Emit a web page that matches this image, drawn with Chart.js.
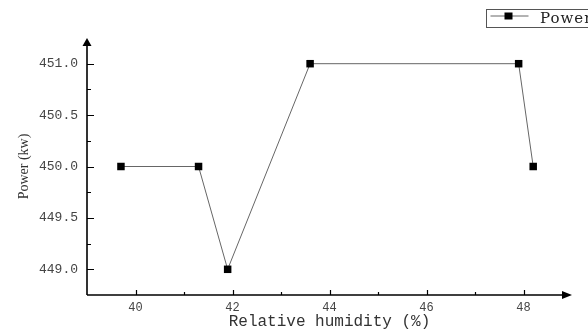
<!DOCTYPE html>
<html>
<head>
<meta charset="utf-8">
<script src="https://cdn.jsdelivr.net/npm/chart.js@4.4.1/dist/chart.umd.min.js"></script>
<style>
html, body { margin: 0; padding: 0; background: #fff; overflow: hidden; }
#wrap { width: 588px; height: 331px; }
</style>
</head>
<body>
<div id="wrap"><canvas id="lineChart" width="588" height="331"></canvas></div>
<script>
// relative humidity (%) vs power (kw)
var humidity = [39.7, 41.3, 41.9, 43.6, 47.9, 48.2];
var power = [450.0, 450.0, 449.0, 451.0, 451.0, 450.0];
var xTickLabels = [40, 42, 44, 46, 48];
var yTickLabels = [449.0, 449.5, 450.0, 450.5, 451.0];

var points = [];
for (var i = 0; i < humidity.length; i++) {
    points.push({ x: humidity[i], y: power[i] });
}

// axis lines with arrow heads and inward tick marks
var axisPlugin = {
    id: 'axisArrows',
    afterDraw: function (chart) {
        var ctx = chart.ctx;
        var area = chart.chartArea;
        var xs = chart.scales.x;
        var ys = chart.scales.y;
        ctx.save();
        ctx.strokeStyle = '#000';
        ctx.fillStyle = '#000';
        ctx.lineWidth = 1.6;
        ctx.beginPath();
        ctx.moveTo(area.left, area.bottom);
        ctx.lineTo(area.left, area.top + 5);
        ctx.moveTo(area.left, area.bottom);
        ctx.lineTo(area.right - 5, area.bottom);
        ctx.stroke();

        ctx.lineWidth = 1.2;
        ctx.beginPath();
        xs.ticks.forEach(function (t) {
            if (t.value <= xs.min || t.value >= xs.max) return;
            var px = Math.round(xs.getPixelForValue(t.value)) + 0.5;
            var len = xTickLabels.indexOf(t.value) >= 0 ? 5 : 3;
            ctx.moveTo(px, area.bottom);
            ctx.lineTo(px, area.bottom - len);
        });
        ys.ticks.forEach(function (t) {
            if (t.value <= ys.min || t.value >= ys.max) return;
            var py = Math.round(ys.getPixelForValue(t.value)) + 0.5;
            var len = yTickLabels.indexOf(t.value) >= 0 ? 7 : 4;
            ctx.moveTo(area.left, py);
            ctx.lineTo(area.left + len, py);
        });
        ctx.stroke();

        // arrow heads
        ctx.beginPath();
        ctx.moveTo(area.left, area.top);
        ctx.lineTo(area.left - 4.5, area.top + 8);
        ctx.lineTo(area.left + 4.5, area.top + 8);
        ctx.closePath();
        ctx.fill();
        ctx.beginPath();
        ctx.moveTo(area.right, area.bottom);
        ctx.lineTo(area.right - 10, area.bottom - 4);
        ctx.lineTo(area.right - 10, area.bottom + 4);
        ctx.closePath();
        ctx.fill();
        ctx.restore();
    }
};

// boxed legend in the top right corner, running off the edge
var legendPlugin = {
    id: 'boxLegend',
    afterDraw: function (chart) {
        var ctx = chart.ctx;
        var ds = chart.data.datasets[0];
        var x0 = 486.5, y0 = 9.5;
        ctx.save();
        ctx.strokeStyle = '#555';
        ctx.lineWidth = 1;
        ctx.strokeRect(x0, y0, 130, 18);
        ctx.strokeStyle = ds.borderColor;
        ctx.beginPath();
        ctx.moveTo(x0 + 4, y0 + 6.5);
        ctx.lineTo(x0 + 42, y0 + 6.5);
        ctx.stroke();
        ctx.fillStyle = ds.pointBackgroundColor;
        ctx.fillRect(x0 + 18, y0 + 3, 8, 7);
        ctx.fillStyle = '#222';
        ctx.font = '15px "DejaVu Serif"';
        ctx.letterSpacing = '1px';
        ctx.textBaseline = 'middle';
        ctx.fillText(ds.label, x0 + 53.5, y0 + 9.5);
        ctx.restore();
    }
};

var lineChartCanvas = document.getElementById('lineChart').getContext('2d');

new Chart(lineChartCanvas, {
    type: 'line',
    data: {
        datasets: [
            {
                label: 'Power',
                data: points,
                borderColor: '#666',
                borderWidth: 1,
                pointStyle: 'rect',
                pointRadius: 5.3,
                pointBackgroundColor: '#000',
                pointBorderColor: '#000',
                pointBorderWidth: 0,
                tension: 0,
                fill: false
            }
        ]
    },
    options: {
        responsive: false,
        animation: false,
        layout: { padding: { top: 38, right: 16, left: 0, bottom: 0 } },
        plugins: {
            legend: { display: false },
            tooltip: { enabled: false }
        },
        scales: {
            x: {
                type: 'linear',
                min: 39,
                max: 49,
                grid: { display: false, drawTicks: false },
                border: { display: false },
                ticks: {
                    stepSize: 1,
                    autoSkip: false,
                    maxRotation: 0,
                    padding: 6,
                    color: '#444',
                    font: { family: '"Liberation Mono"', size: 12 },
                    callback: function (value) {
                        return xTickLabels.indexOf(value) >= 0 ? String(value) : '';
                    }
                },
                title: {
                    display: true,
                    text: 'Relative humidity (%)',
                    color: '#333',
                    font: { family: '"Liberation Mono"', size: 16 },
                    padding: { top: 0, bottom: 0 }
                },
                afterFit: function (scale) { scale.height = 36; }
            },
            y: {
                type: 'linear',
                min: 448.75,
                max: 451.25,
                grid: { display: false, drawTicks: false },
                border: { display: false },
                ticks: {
                    stepSize: 0.25,
                    autoSkip: false,
                    padding: 9,
                    color: '#444',
                    font: { family: '"Liberation Mono"', size: 13 },
                    callback: function (value) {
                        return yTickLabels.indexOf(value) >= 0 ? value.toFixed(1) : '';
                    }
                },
                title: {
                    display: true,
                    text: 'Power (kw)',
                    color: '#333',
                    font: { family: '"Liberation Serif"', size: 14 },
                    padding: { top: 16, bottom: 0 }
                },
                afterFit: function (scale) { scale.width = 87; }
            }
        }
    },
    plugins: [axisPlugin, legendPlugin]
});
</script>
</body>
</html>
